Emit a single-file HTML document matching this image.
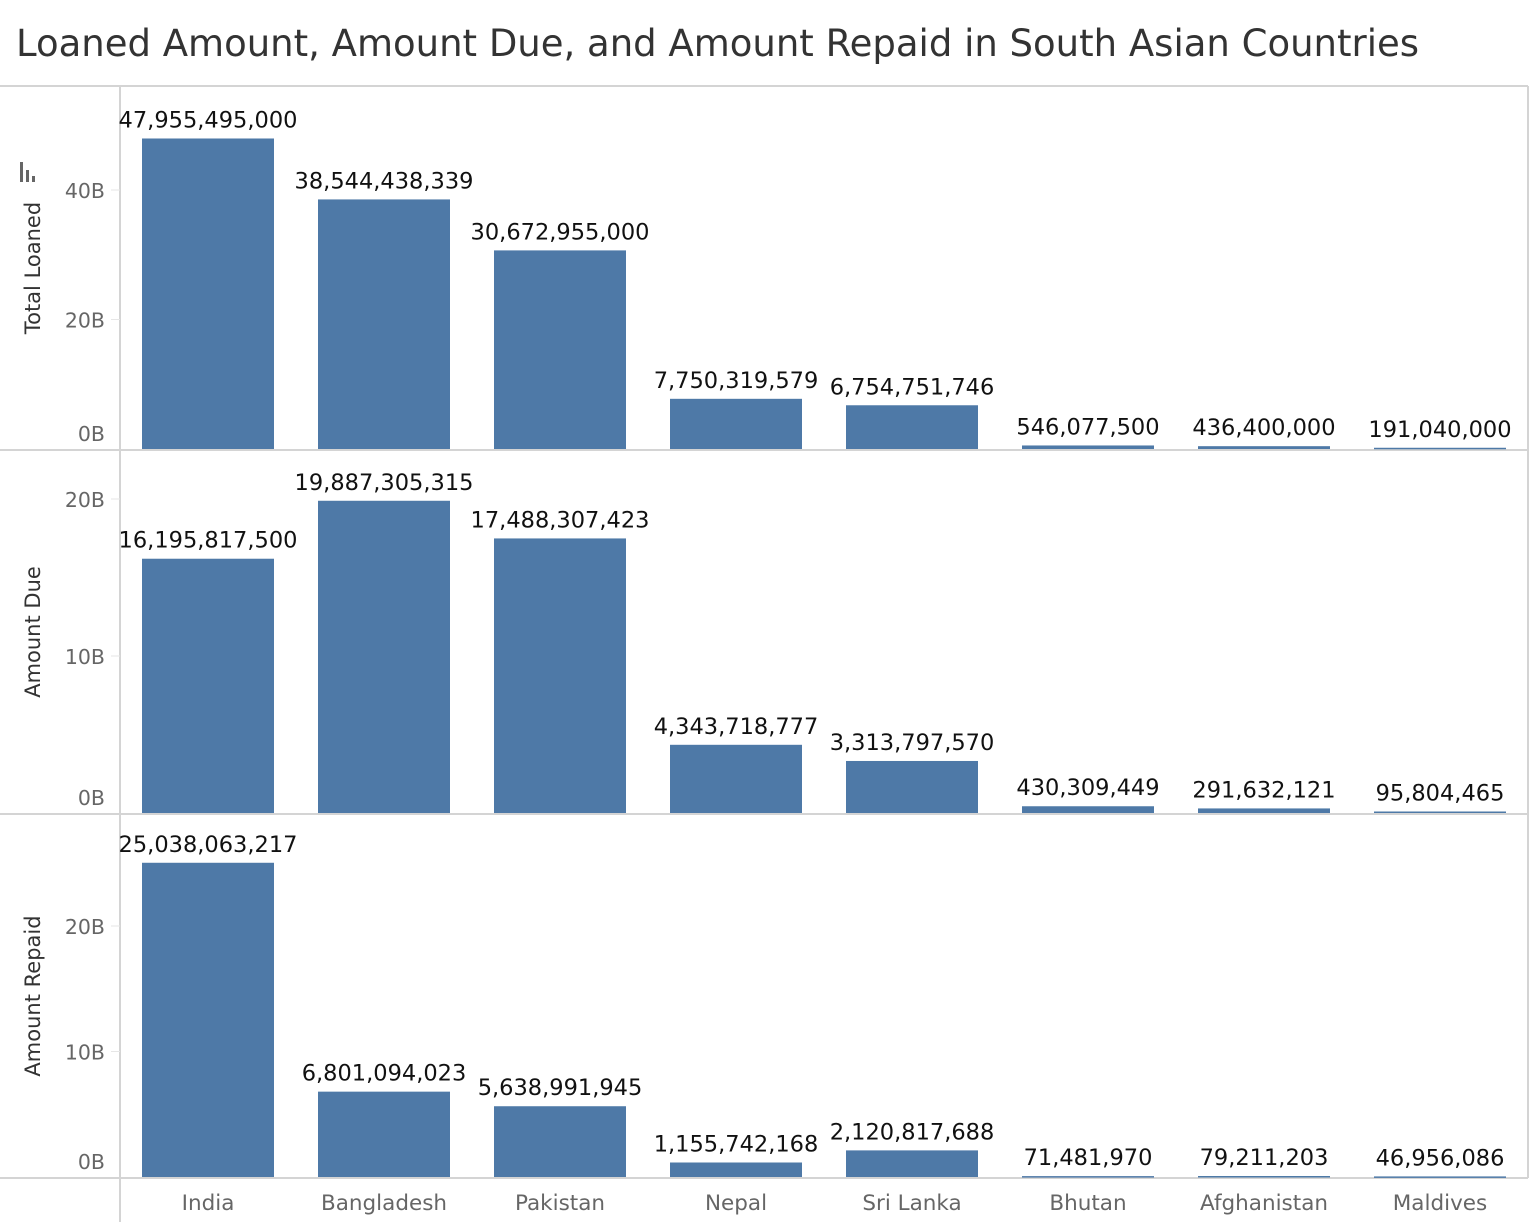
<!DOCTYPE html>
<html><head><meta charset="utf-8"><style>
body{margin:0;background:#fff;}
svg{display:block;font-family:"DejaVu Sans","Liberation Sans",sans-serif;}
</style></head><body>
<svg id="chart" width="1532" height="1222" xmlns="http://www.w3.org/2000/svg">
<text x="16" y="56" font-size="37" fill="#333">Loaned Amount, Amount Due, and Amount Repaid in South Asian Countries</text>
</svg>
<script>
const categories=["India","Bangladesh","Pakistan","Nepal","Sri Lanka","Bhutan","Afghanistan","Maldives"];
const loaned=[47955495000,38544438339,30672955000,7750319579,6754751746,546077500,436400000,191040000];
const due=[16195817500,19887305315,17488307423,4343718777,3313797570,430309449,291632121,95804465];
const repaid=[25038063217,6801094023,5638991945,1155742168,2120817688,71481970,79211203,46956086];
const ticksLoaned=[0,20,40];
const ticksDue=[0,10,20];
const ticksRepaid=[0,10,20];
const NS="http://www.w3.org/2000/svg";
const svg=document.getElementById('chart');
function mk(tag,attrs,parent){const e=document.createElementNS(NS,tag);for(const k in attrs)e.setAttribute(k,attrs[k]);(parent||svg).appendChild(e);return e;}
const x0=120,step=176,barW=132;
function xCenter(i){return x0+22+barW/2+i*step;}
const panels=[
 {name:'total-loaned',title:'Total Loaned',vals:loaned,ticks:ticksLoaned,top:87,base:449,pxPerB:6.475},
 {name:'amount-due',title:'Amount Due',vals:due,ticks:ticksDue,top:451,base:813,pxPerB:15.7},
 {name:'amount-repaid',title:'Amount Repaid',vals:repaid,ticks:ticksRepaid,top:815,base:1177,pxPerB:12.55}
];
const grid=mk('g',{});


[86,450,814,1178].forEach(y=>mk('line',{x1:0,x2:1528,y1:y,y2:y,stroke:'#d4d4d4','stroke-width':2},grid));
mk('line',{x1:x0,x2:x0,y1:86,y2:1222,stroke:'#d4d4d4','stroke-width':2},grid);
mk('line',{x1:1528,x2:1528,y1:86,y2:1178,stroke:'#d4d4d4','stroke-width':2},grid);
panels.forEach(p=>{
  const g=mk('g',{});
  
  
  const y=v=>p.base-v/1e9*p.pxPerB;
  const t=mk('text',{x:40,y:(p.top+p.base)/2,'font-size':21,fill:'#333','text-anchor':'middle',transform:`rotate(-90 40 ${(p.top+p.base)/2})`},g);
  t.textContent=p.title;
  
  
  p.ticks.forEach(tv=>{
    let ty=y(tv*1e9);
    const lab=mk('text',{x:105,y:(tv===0?p.base-8:ty+8),'font-size':20.5,fill:'#666','text-anchor':'end'},g);
    lab.textContent=tv+'B';
    
    
    if(tv!==0) mk('line',{x1:111,x2:120,y1:ty,y2:ty,stroke:'#e6e6e6','stroke-width':1},g);
  });
  p.vals.forEach((v,i)=>{
    const cx=xCenter(i);
    const top=y(v);
    const r=mk('rect',{x:cx-barW/2,y:top,width:barW,height:Math.max(p.base-top,1.5),fill:'#4e79a7'},g);
    
    
    const l=mk('text',{x:cx,y:top-11,'font-size':22.5,fill:'#111','text-anchor':'middle'},g);
    l.textContent=v.toLocaleString('en-US');
    
    
  });
});
const ic=mk('g',{fill:'#666'});


mk('rect',{x:20,y:162,width:3,height:20},ic);
mk('rect',{x:26,y:170,width:3,height:12},ic);
mk('rect',{x:32,y:176,width:3,height:6},ic);
categories.forEach((c,i)=>{
  const t=mk('text',{x:xCenter(i),y:1210,'font-size':21.5,fill:'#666','text-anchor':'middle'});
  t.textContent=c;
  
  
});
</script>
</body></html>
